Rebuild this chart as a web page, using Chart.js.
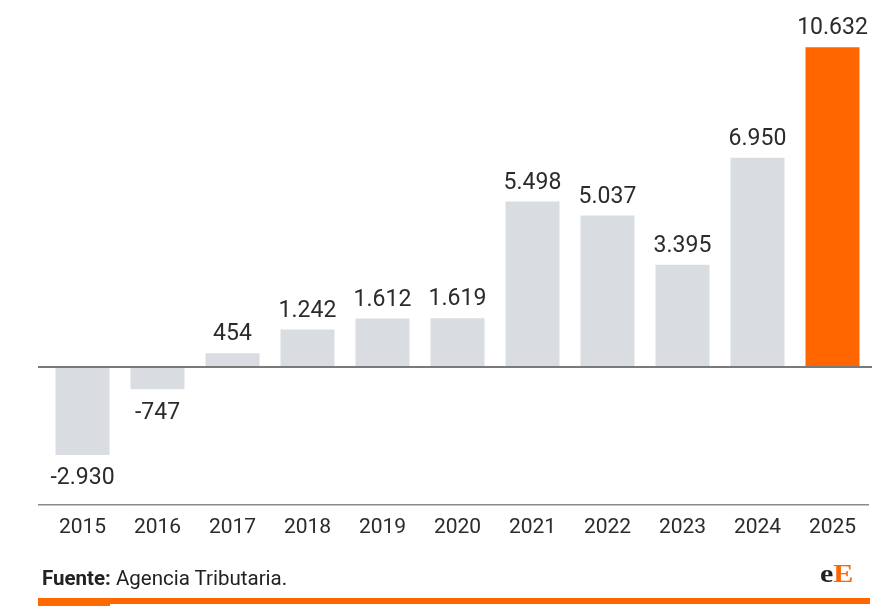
<!DOCTYPE html>
<html>
<head>
<meta charset="utf-8">
<script src="https://cdn.jsdelivr.net/npm/chart.js@4/dist/chart.umd.min.js"></script>
<style>
  html, body { margin: 0; padding: 0; background: #fff; }
  #wrap { position: relative; width: 887px; height: 615px; overflow: hidden; }
  canvas { position: absolute; left: 0; top: 0; }
  #fuente { position: absolute; left: 42px; top: 568px; font: 20.5px Roboto, sans-serif; line-height: 20px; color: #222; white-space: nowrap; }
  #fuente b { font-weight: 700; }
  #logo { position: absolute; left: 820px; top: 561px; font: bold 25px "Liberation Serif", "DejaVu Serif", serif; line-height: 25px; color: #222; transform: scaleX(1.2); transform-origin: left top; }
  #logo span { color: #ff6600; }
  #bar1 { position: absolute; left: 38px; top: 598px; width: 832px; height: 6px; background: #ff6600; }
  #bar2 { position: absolute; left: 38px; top: 599px; width: 72px; height: 7px; background: #ff6a00; }
</style>
</head>
<body>
<div id="wrap">
  <canvas id="c" width="887" height="615"></canvas>
  <div id="fuente"><b>Fuente:</b> Agencia Tributaria.</div>
  <div id="logo">e<span>E</span></div>
  <div id="bar1"></div>
  <div id="bar2"></div>
</div>
<script>
const years = ['2015','2016','2017','2018','2019','2020','2021','2022','2023','2024','2025'];
const values = [-2930, -747, 454, 1242, 1612, 1619, 5498, 5037, 3395, 6950, 10632];
const barColors = ['#d9dde1','#d9dde1','#d9dde1','#d9dde1','#d9dde1','#d9dde1','#d9dde1','#d9dde1','#d9dde1','#d9dde1','#ff6600'];

function fmt(v) {
  const s = Math.abs(v).toString().replace(/\B(?=(\d{3})+(?!\d))/g, '.');
  return (v < 0 ? '-' : '') + s;
}

const linesPlugin = {
  id: 'lines',
  afterDatasetsDraw(chart) {
    const ctx = chart.ctx;
    const y = chart.scales.y;
    const z = Math.round(y.getPixelForValue(0));
    ctx.save();
    ctx.strokeStyle = '#7a7a7a';
    ctx.lineWidth = 2;
    ctx.beginPath(); ctx.moveTo(38, z); ctx.lineTo(872, z); ctx.stroke();
    ctx.strokeStyle = '#8a8a8a';
    ctx.lineWidth = 1.5;
    const b = chart.chartArea.bottom - 1;
    ctx.beginPath(); ctx.moveTo(38, b); ctx.lineTo(869, b); ctx.stroke();
    ctx.restore();
  }
};

const labelPlugin = {
  id: 'vlabels',
  afterDatasetsDraw(chart) {
    const ctx = chart.ctx;
    const meta = chart.getDatasetMeta(0);
    ctx.save();
    ctx.font = '23px Roboto, sans-serif';
    ctx.fillStyle = '#2b2b2b';
    ctx.textAlign = 'center';
    meta.data.forEach((bar, i) => {
      const v = values[i];
      if (v >= 0) {
        ctx.textBaseline = 'bottom';
        ctx.fillText(fmt(v), bar.x, bar.y - 7);
      } else {
        ctx.textBaseline = 'top';
        ctx.fillText(fmt(v), bar.x, bar.y + 12);
      }
    });
    ctx.restore();
  }
};

new Chart(document.getElementById('c'), {
  type: 'bar',
  data: {
    labels: years,
    datasets: [{
      data: values,
      backgroundColor: barColors,
      borderWidth: 0,
      barPercentage: 0.72,
      categoryPercentage: 1
    }]
  },
  options: {
    responsive: false,
    animation: false,
    devicePixelRatio: 1,
    layout: { padding: { left: 45, right: 17, top: 9, bottom: 74 } },
    plugins: { legend: { display: false }, tooltip: { enabled: false }, title: { display: false } },
    scales: {
      y: { display: false, min: -4620, max: 11900 },
      x: {
        grid: { display: false },
        border: { display: false },
        ticks: { color: '#2b2b2b', font: { family: 'Roboto', size: 21 }, padding: 1, maxRotation: 0 }
      }
    }
  },
  plugins: [linesPlugin, labelPlugin]
});
</script>
</body>
</html>
